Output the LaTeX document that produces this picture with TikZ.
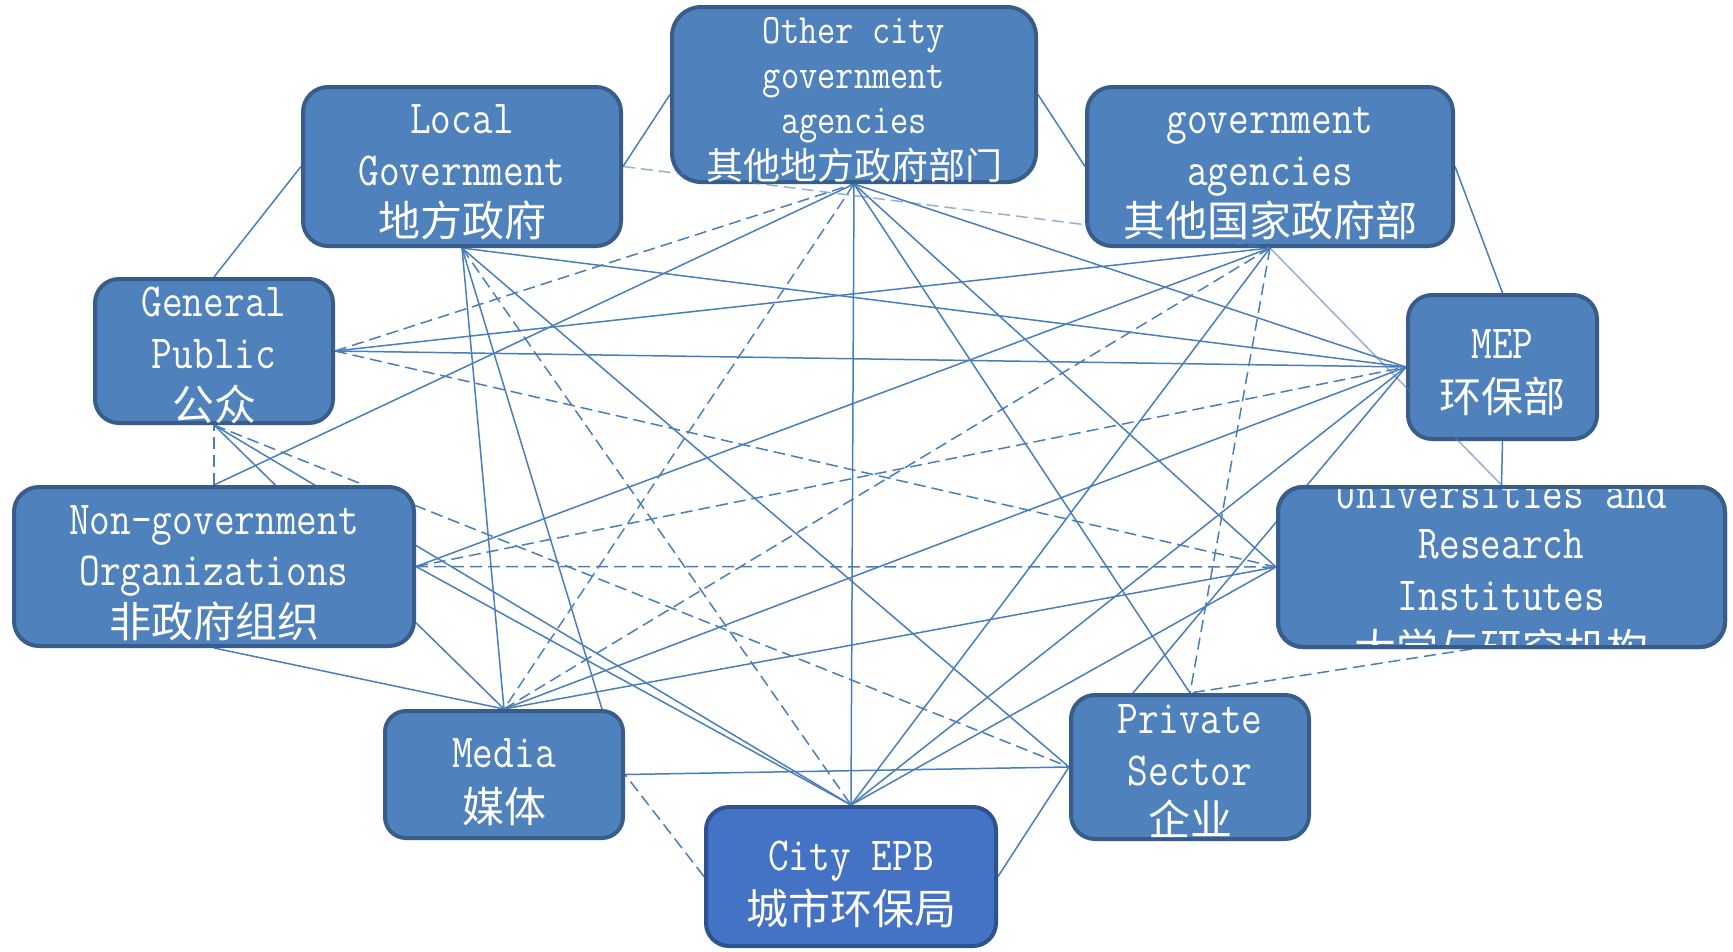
\documentclass[tikz,border=0pt]{standalone}
\usepackage{fontspec}
\usepackage{graphicx}
\newfontfamily\cjk{Noto Sans CJK SC}
\definecolor{boxfill}{HTML}{4F81BD}
\definecolor{boxline}{HTML}{385D8A}
\definecolor{epbfill}{HTML}{4472C4}
\definecolor{epbline}{HTML}{2F528F}
\definecolor{link}{HTML}{4A7EBB}
\newcommand\tall[1]{\scalebox{1}[1.18]{#1}}
\pgfdeclarelayer{back}
\pgfdeclarelayer{bg}
\pgfsetlayers{back,bg,main}
\tikzset{
  box/.style={draw=boxline, fill=boxfill, line width=4pt, rounded corners=#1, inner sep=0pt},
  box/.default=25pt,
  frame/.style={draw=boxline, line width=4pt, rounded corners=25pt, inner sep=0pt},
  lat/.style={text=white, anchor=base, inner sep=0pt, font=\fontsize{40.2}{48}\selectfont\ttfamily},
  lats/.style={text=white, anchor=base, inner sep=0pt, font=\fontsize{35.4}{42}\selectfont\ttfamily},
  han/.style={text=white, anchor=base, inner sep=0pt, font=\fontsize{42}{50}\selectfont\cjk},
  hans/.style={text=white, anchor=base, inner sep=0pt, font=\fontsize{37}{44}\selectfont\cjk},
  sol/.style={draw=link, line width=1.5pt},
  das/.style={sol, dash pattern=on 12pt off 6pt},
}
\begin{document}
\begin{tikzpicture}[x=1pt,y=-1pt]
\useasboundingbox (0,0) rectangle (1733,951);
\begin{pgfonlayer}{back}
\fill[white] (0,0) rectangle (1733,951);
\end{pgfonlayer}
% boxes
\node[box=29pt, minimum width=364pt, minimum height=175pt] (OC) at (854,94.5) {};
\node[box, minimum width=318pt, minimum height=159pt] (LG) at (462,166.5) {};
\node[box, minimum width=366pt, minimum height=159pt] (GA) at (1270,166.5) {};
\node[box=24pt, minimum width=238pt, minimum height=144pt] (GP) at (214,351) {};
\node[box=24pt, minimum width=189pt, minimum height=144pt] (MEP) at (1502.5,367) {};
\node[box, minimum width=400pt, minimum height=159pt] (NGO) at (214,566.5) {};
\node[box, minimum width=447pt, minimum height=160pt] (UR) at (1501.5,567) {};
\node[box=21pt, minimum width=238pt, minimum height=127pt] (Media) at (504,774.5) {};
\node[box=24pt, minimum width=238pt, minimum height=144pt] (Priv) at (1190,767) {};
\node[box=23pt, draw=epbline, fill=epbfill, minimum width=290pt, minimum height=139pt] (EPB) at (851,876.5) {};
% connectors behind the boxes
\begin{pgfonlayer}{bg}
\draw[sol] (GP.north) -- (LG.west);
\draw[sol] (LG.east) -- (OC.west);
\draw[sol] (OC.east) -- (GA.west);
\draw[sol] (GA.east) -- (MEP.north);
\draw[sol] (MEP.south) -- (UR.north);
\draw[das] ([xshift=-30pt]UR.south) -- (Priv.north);
\draw[sol] (Priv.west) -- (EPB.east);
\draw[das] (EPB.west) -- (Media.east);
\draw[sol] (Media.north) -- (NGO.south);
\draw[das] (NGO.north) -- (GP.south);
\draw[sol] (GP.south) -- (Media.north);
\draw[sol] (GP.south) -- (EPB.north);
\draw[das] (GP.south) -- (Priv.west);
\draw[sol] (NGO.north) -- (OC.south);
\draw[das] (GP.east) -- (OC.south);
\draw[sol] (GP.east) -- (GA.south);
\draw[sol] (GP.east) -- (MEP.west);
\draw[das] (GP.east) -- (UR.west);
\draw[sol] (LG.south) -- (MEP.west);
\draw[sol] (LG.south) -- (Media.north);
\draw[sol] (LG.south) -- ([xshift=98pt]Media.north);
\draw[das] (LG.south) -- (EPB.north);
\draw[sol] (LG.south) -- (Priv.west);
\draw[sol] (OC.south) -- (MEP.west);
\draw[sol] (OC.south) -- (Priv.north);
\draw[sol] (OC.south) -- (UR.west);
\draw[sol] (OC.south) -- (EPB.north);
\draw[das] (OC.south) -- (Media.north);
\draw[sol] (NGO.east) -- (GA.south);
\draw[das] (NGO.east) -- (MEP.west);
\draw[das] (NGO.east) -- (UR.west);
\draw[sol] (NGO.east) -- (EPB.north);
\draw[das] (GA.south) -- (Media.north);
\draw[sol] (GA.south) -- (EPB.north);
\draw[das] (GA.south) -- (Priv.north);
\draw[sol] (MEP.west) -- (Media.north);
\draw[sol] (MEP.west) -- (EPB.north);
\draw[sol] (MEP.west) -- ([xshift=-57pt]Priv.north);
\draw[sol] (UR.west) -- (Media.north);
\draw[sol] (UR.west) -- (EPB.north);
\draw[sol] (Media.east) -- (Priv.west);
\end{pgfonlayer}
% connectors over the boxes
\draw[das, opacity=0.6] (LG.east) -- (GA.south);
\draw[sol, opacity=0.6] (GA.south) -- (UR.north);
% texts
\node[lats] (OC1) at (854,43) {\tall{Other city}};
\node[lats] (OC2) at (854,88) {\tall{government}};
\node[lats] (OC3) at (854,133) {\tall{agencies}};
\node[hans] (OC4) at (854,179) {其他地方政府部门};
\node[lat] (LG1) at (462,133) {\tall{Local}};
\node[lat] (LG2) at (462,185) {\tall{Government}};
\node[han] (LG3) at (462,236) {地方政府};
\node[lat] (GA1) at (1270,133) {\tall{government}};
\node[lat] (GA2) at (1270,185) {\tall{agencies}};
\node[han] (GA3) at (1270,236) {其他国家政府部};
\node[lat] (GP1) at (214,316) {\tall{General}};
\node[lat] (GP2) at (214,368) {\tall{Public}};
\node[han] (GP3) at (214,420) {公众};
\node[lat] (MEP1) at (1502.5,358) {\tall{MEP}};
\node[han] (MEP2) at (1502.5,412) {环保部};
\node[lat] (NGO1) at (214,534) {\tall{Non-government}};
\node[lat] (NGO2) at (214,585) {\tall{Organizations}};
\node[han] (NGO3) at (214,637) {非政府组织};
\node[lat] (P1) at (1190,733) {\tall{Private}};
\node[lat] (P2) at (1190,785) {\tall{Sector}};
\node[han] (P3) at (1190,835) {企业};
\node[lat] (M1) at (504,767) {\tall{Media}};
\node[han] (M2) at (504,822) {媒体};
\node[lat] (E1) at (851,870) {\tall{City EPB}};
\node[han] (E2) at (851,924) {城市环保局};
\begin{scope}
\clip (1280,489) rectangle (1723,645);
\node[lat] (U1) at (1501.5,508) {\tall{Universities and}};
\node[lat] (U2) at (1501.5,558) {\tall{Research}};
\node[lat] (U3) at (1501.5,610) {\tall{Institutes}};
\node[han] (U4) at (1501.5,664) {大学与研究机构};
\end{scope}
\node[frame, minimum width=447pt, minimum height=160pt] (URf) at (1501.5,567) {};
\end{tikzpicture}
\end{document}
